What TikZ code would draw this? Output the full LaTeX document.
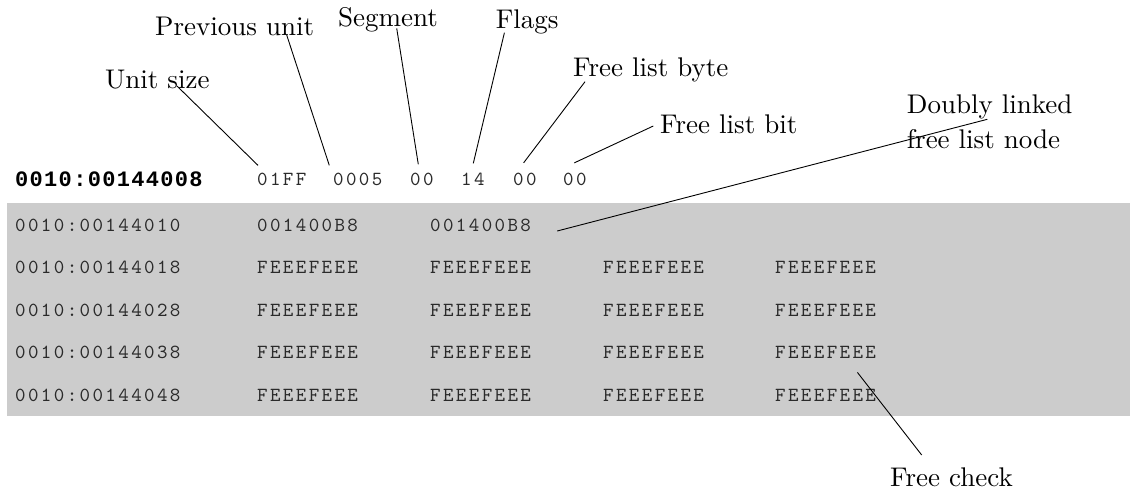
\documentclass[tikz,border=0pt]{standalone}
\usepackage{fontspec}
\newfontfamily\hexfont[LetterSpace=12]{lmmono10-regular.otf}
\newfontfamily\addrfont[LetterSpace=6]{Liberation Mono}
\newfontfamily\labelfont{lmroman10-regular.otf}
\definecolor{bandgray}{HTML}{CCCCCC}
\definecolor{hexink}{HTML}{2A2A2A}

\begin{document}
\begin{tikzpicture}[x=1pt,y=-1pt,
  hexval/.style={inner sep=0pt,anchor=base west,text=hexink,font=\hexfont\fontsize{20}{24}\selectfont},
  headaddr/.style={inner sep=0pt,anchor=base west,font=\addrfont\bfseries\fontsize{22}{26}\selectfont},
  fieldlabel/.style={inner sep=0pt,anchor=base west,font=\labelfont\fontsize{27}{35}\selectfont},
  leader/.style={line width=0.9pt}]
\useasboundingbox (0,0) rectangle (1130,491);
\fill[bandgray] (7,203) rectangle (1130,416);
% header row
\node[headaddr] (hdraddr) at (15,186) {0010:00144008};
\node[hexval] (usz) at (257,185) {01FF};
\node[hexval] (prev) at (333,185) {0005};
\node[hexval] (seg) at (410,185) {00};
\node[hexval] (flg) at (461,185) {14};
\node[hexval] (fbyte) at (513,185) {00};
\node[hexval] (fbit) at (563,185) {00};
% shaded body
\node[hexval] (addr1) at (15,231) {0010:00144010};
\node[hexval] (fwd) at (257,231) {001400B8};
\node[hexval] (bwd) at (430,231) {001400B8};
\foreach \r/\a in {2/18,3/28,4/38,5/48}{
  \node[hexval] (addr\r) at (15,{231+(\r-1)*42.6}) {0010:001440\a};
  \foreach \c/\x in {1/257,2/430,3/603,4/775}
    \node[hexval] (fill\r\c) at (\x,{231+(\r-1)*42.6}) {FEEEFEEE};
}
% labels
\node[fieldlabel] (lblsize) at (105,88) {Unit size};
\node[fieldlabel] (lblprev) at (155,35) {Previous unit};
\node[fieldlabel] (lblseg) at (338,26) {Segment};
\node[fieldlabel] (lblflags) at (495.6,28.3) {Flags};
\node[fieldlabel] (lblbyte) at (573,76.7) {Free list byte};
\node[fieldlabel] (lblbit) at (660,133) {Free list bit};
\node[fieldlabel,anchor=north west,align=left] (lbllist) at (906.7,94.6) {Doubly linked\\free list node};
\node[fieldlabel] (lblcheck) at (890,486.7) {Free check};
% leaders
\draw[leader] ([shift={(72pt,2pt)}]lblsize.base west) -- ([shift={(1pt,7pt)}]usz.north west);
\draw[leader] ([shift={(131.7pt,0pt)}]lblprev.base west) -- ([shift={(-3.7pt,7pt)}]prev.north west);
\draw[leader] ([shift={(58.7pt,-2.3pt)}]lblseg.base west) -- ([shift={(8.3pt,8pt)}]seg.north west);
\draw[leader] ([shift={(8.8pt,-4.4pt)}]lblflags.base west) -- ([shift={(12.3pt,9pt)}]flg.north west);
\draw[leader] ([shift={(12pt,-5pt)}]lblbyte.base west) -- ([shift={(10.6pt,9.5pt)}]fbyte.north west);
\draw[leader] ([shift={(-6.7pt,7pt)}]lblbit.base west) -- ([shift={(11.3pt,9.5pt)}]fbit.north west);
\draw[leader] ([shift={(80.6pt,-24.7pt)}]lbllist.north west) -- ([xshift=26pt]bwd.base east);
\draw[leader] ([shift={(31.7pt,31.7pt)}]lblcheck.base west) -- ([shift={(31.8pt,16.6pt)}]fill54.north);
\end{tikzpicture}
\end{document}
